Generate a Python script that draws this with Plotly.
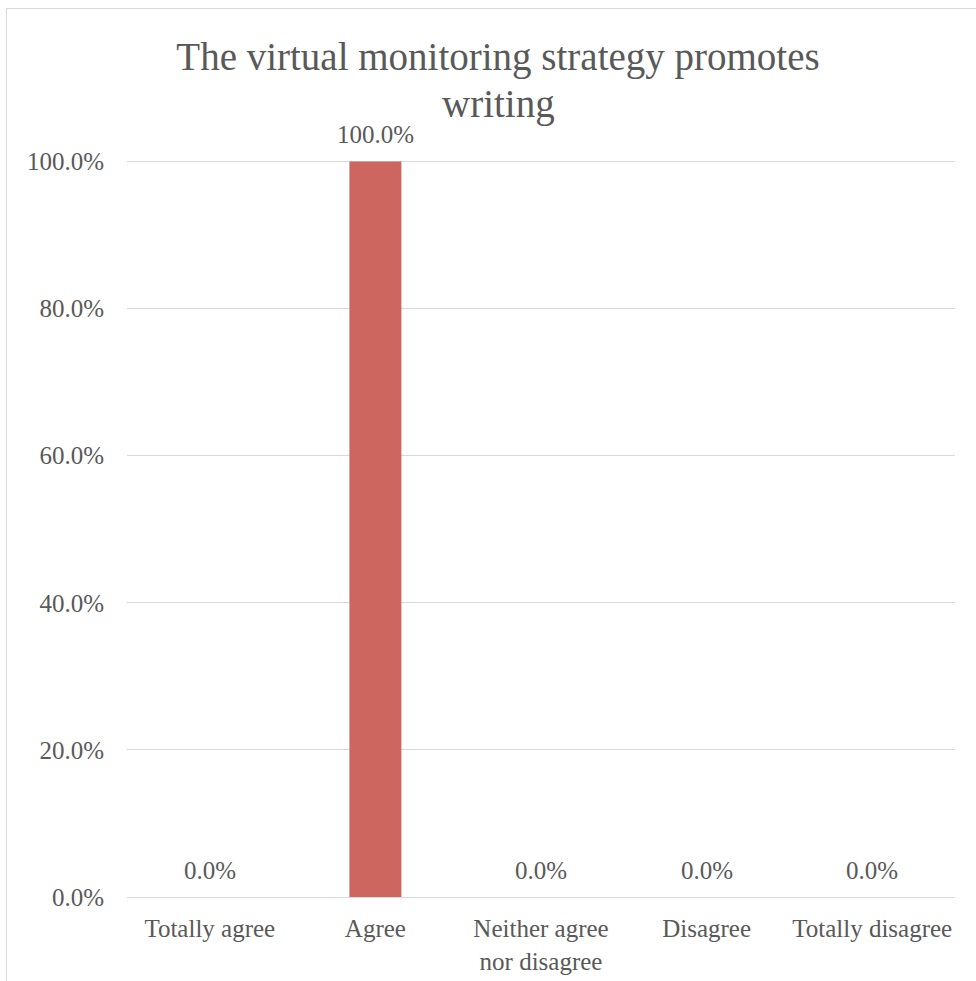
import plotly.graph_objects as go

# Survey responses for one statement
categories = ["Totally agree", "Agree", "Neither agree<br>nor disagree", "Disagree", "Totally disagree"]
shares = [0.0, 1.0, 0.0, 0.0, 0.0]
y_ticks = [0.0, 0.2, 0.4, 0.6, 0.8, 1.0]
title_lines = ["The virtual monitoring strategy promotes", "writing"]

W, H = 976, 981
ML, MR, MT, MB = 127, 21, 160, 84
PW, PH = W - ML - MR, H - MT - MB

TEXT = "#595959"
GRID = "#d9d9d9"
FONT = "Liberation Serif"
TICK_SIZE = 25
TITLE_SIZE = 39

fig = go.Figure(
    go.Bar(
        x=categories,
        y=shares,
        marker_color="#CD665E",
        marker_line_width=0,
        hoverinfo="x+y",
    )
)

# value labels above each bar
labels = [
    dict(
        x=c,
        y=v,
        xref="x",
        yref="y",
        text=f"{v:.1%}",
        showarrow=False,
        yanchor="middle",
        yshift=27,
        font=dict(family=FONT, size=TICK_SIZE, color=TEXT),
    )
    for c, v in zip(categories, shares)
]

# second title line, placed just below the first
labels.append(
    dict(
        x=(498 - ML) / PW,
        y=1 + (MT - 104) / PH,
        xref="paper",
        yref="paper",
        text=title_lines[1],
        showarrow=False,
        xanchor="center",
        yanchor="middle",
        font=dict(family=FONT, size=TITLE_SIZE, color=TEXT),
    )
)

fig.update_layout(
    width=W,
    height=H,
    margin=dict(l=ML, r=MR, t=MT, b=MB, autoexpand=False),
    paper_bgcolor="white",
    plot_bgcolor="white",
    showlegend=False,
    bargap=0.686,
    title=dict(
        text=title_lines[0],
        x=498 / W,
        xanchor="center",
        y=1 - 56 / H,
        yanchor="middle",
        font=dict(family=FONT, size=TITLE_SIZE, color=TEXT),
    ),
    font=dict(family=FONT, color=TEXT),
    annotations=labels,
    xaxis=dict(
        automargin=False,
        showgrid=False,
        showline=True,
        linecolor=GRID,
        linewidth=1,
        ticks="",
        ticklabelstandoff=9,
        tickfont=dict(family=FONT, size=TICK_SIZE, color=TEXT),
        fixedrange=True,
    ),
    yaxis=dict(
        automargin=False,
        range=[0, 1.002],
        tickvals=y_ticks,
        tickformat=".1%",
        showgrid=True,
        gridcolor=GRID,
        gridwidth=1,
        zeroline=False,
        showline=False,
        ticks="",
        ticklabelstandoff=22,
        tickfont=dict(family=FONT, size=TICK_SIZE, color=TEXT),
        fixedrange=True,
    ),
    shapes=[
        # chart-area frame
        dict(
            type="rect",
            xref="paper",
            yref="paper",
            x0=(6.5 - ML) / PW,
            x1=(W + 20 - ML) / PW,
            y0=-(MB + 20) / PH,
            y1=1 + (MT - 8.5) / PH,
            line=dict(color=GRID, width=1),
            fillcolor="rgba(0,0,0,0)",
            layer="below",
        )
    ],
)

fig.write_html("out.html")
